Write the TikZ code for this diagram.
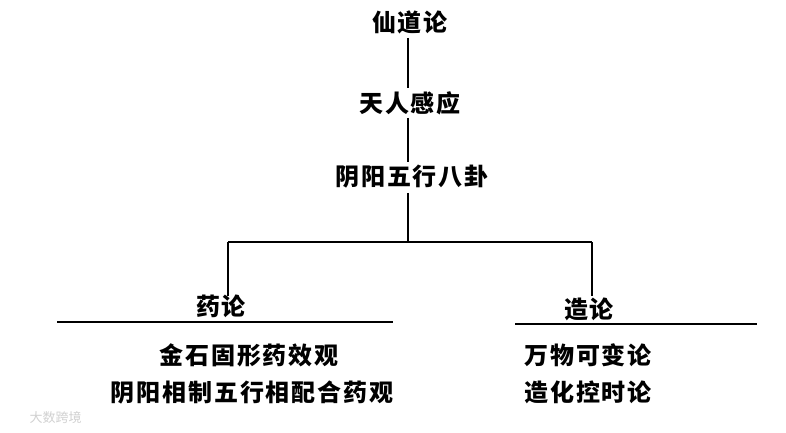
\documentclass[tikz,border=0pt]{standalone}
\usepackage{fontspec}
\newfontfamily\cjk[LetterSpace=8]{Noto Sans CJK SC}
\newfontfamily\cjkwm{Noto Sans CJK SC}
\begin{document}
\begin{tikzpicture}[x=1pt,y=-1pt,
  lbl/.style={font=\cjk\bfseries\fontsize{24}{26}\selectfont, inner sep=1pt},
  conn/.style={line width=1.6pt, black},
  rule/.style={line width=2.2pt, black}]
\useasboundingbox (0,0) rectangle (786,432);
\fill[white] (0,0) rectangle (786,432);
\node[lbl] (top) at (410,22) {仙道论};
\node[lbl] (mid) at (410,103) {天人感应};
\node[lbl] (yy) at (412,177) {阴阳五行八卦};
\node[lbl] (yao) at (221,306) {药论};
\node[lbl] (zao) at (589,309) {造论};
\node[lbl] (y1) at (249,355) {金石固形药效观};
\node[lbl] (y2) at (252,392) {阴阳相制五行相配合药观};
\node[lbl,anchor=west] (z1) at (523,355) {万物可变论};
\node[lbl,anchor=west] (z2) at (523,392) {造化控时论};
\node[font=\cjkwm\fontsize{13}{14}\selectfont, text=black!18, anchor=west] (wm) at (26,418) {大数跨境};
\coordinate (bar) at (408,242);
\coordinate (bl) at (228,242);
\coordinate (br) at (592,242);
\coordinate (blend) at (228,296);
\coordinate (brend) at (592,296);
\draw[conn, shorten <=3pt, shorten >=2pt] (top.south -| bar) -- (mid.north -| bar);
\draw[conn, shorten <=2pt, shorten >=2pt] (mid.south -| bar) -- (yy.north -| bar);
\draw[conn, shorten <=3pt] (yy.south -| bar) -- (bar);
\draw[rule] (bl) -- (br);
\draw[conn] (bl) -- (blend);
\draw[conn] (br) -- (brend);
\coordinate (ya) at (57,322);
\coordinate (yb) at (393,322);
\coordinate (za) at (515,324);
\coordinate (zb) at (757,324);
\draw[rule] (ya) -- (yb);
\draw[rule] (za) -- (zb);
\end{tikzpicture}
\end{document}
